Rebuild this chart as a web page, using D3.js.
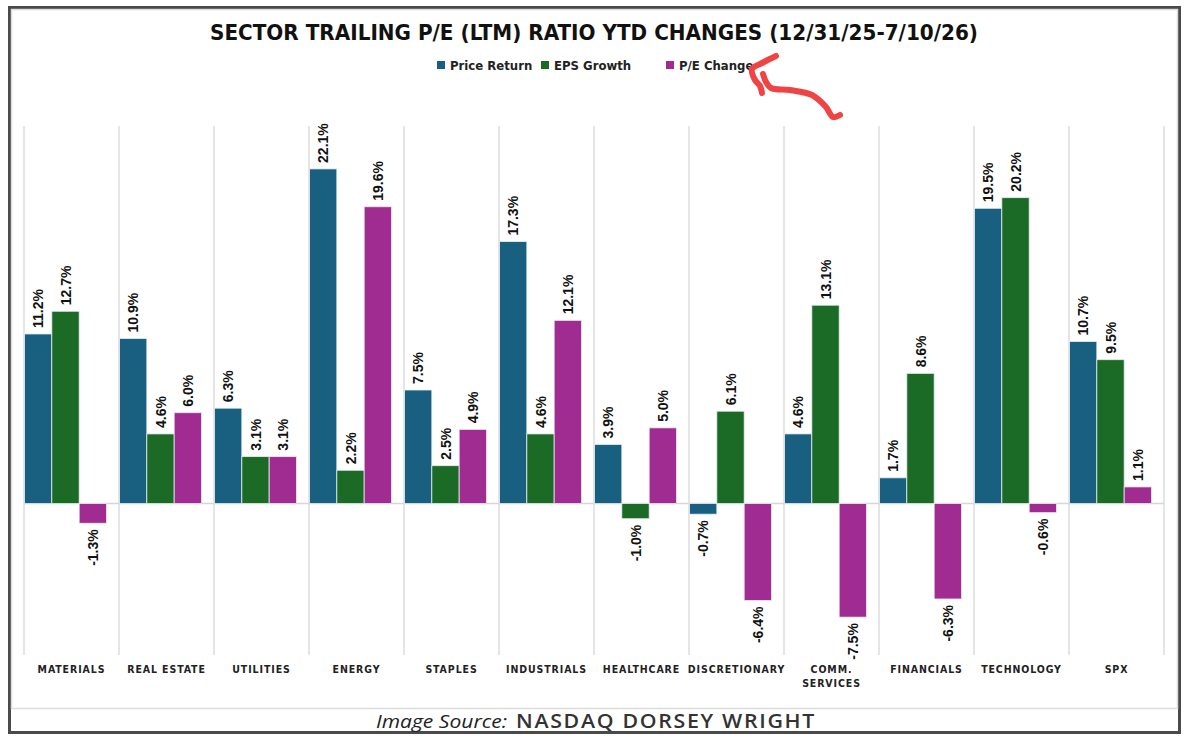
<!DOCTYPE html>
<html>
<head>
<meta charset="utf-8">
<script src="https://cdn.jsdelivr.net/npm/d3@7"></script>
<style>
    body { margin: 0; background: #fff; }
    svg { display: block; }
</style>
</head>
<body>
<div id="chart"></div>
<script>
const sectors = ["MATERIALS", "REAL ESTATE", "UTILITIES", "ENERGY", "STAPLES", "INDUSTRIALS",
    "HEALTHCARE", "DISCRETIONARY", "COMM.|SERVICES", "FINANCIALS", "TECHNOLOGY", "SPX"]
const series = ["Price Return", "EPS Growth", "P/E Change"]
const price_return = [11.2, 10.9, 6.3, 22.1, 7.5, 17.3, 3.9, -0.7, 4.6, 1.7, 19.5, 10.7]
const eps_growth = [12.7, 4.6, 3.1, 2.2, 2.5, 4.6, -1.0, 6.1, 13.1, 8.6, 20.2, 9.5]
const pe_change = [-1.3, 6.0, 3.1, 19.6, 4.9, 12.1, 5.0, -6.4, -7.5, -6.3, -0.6, 1.1]
const colors = ["#185f80", "#1b6a26", "#a12c91"]

const W = 1188, H = 738
const values = [price_return, eps_growth, pe_change]
const data = sectors.map((s, i) => ({ sector: s, vals: values.map((v, k) => ({ key: series[k], v: v[i] })) }))

const svg = d3.select("#chart").append("svg")
    .attr("width", W)
    .attr("height", H)

// frames
svg.append("rect")
    .attr("x", 9.5).attr("y", 7.5)
    .attr("width", 1170).attr("height", 725)
    .attr("fill", "#fff")
    .attr("stroke", "#4a4a4a")
    .attr("stroke-width", 3)
svg.append("rect")
    .attr("x", 11.5).attr("y", 9.5)
    .attr("width", 1166).attr("height", 699)
    .attr("fill", "none")
    .attr("stroke", "#dcdcdc")
    .attr("stroke-width", 1.5)

// scales
const x = d3.scaleBand()
    .domain(sectors)
    .range([24, 1164])
    .padding(0)

const xs = d3.scaleBand()
    .domain(series)
    .range([0.5, 82.5])
    .padding(0)

const y = d3.scaleLinear()
    .domain([-10, 25])
    .range([655, 125])

// vertical grid lines between categories
const bounds = sectors.map(s => x(s)).concat([x.range()[1]])
svg.append("g")
    .selectAll("line")
    .data(bounds)
    .enter().append("line")
    .attr("x1", d => d).attr("x2", d => d)
    .attr("y1", y(25) + 1).attr("y2", y(-10))
    .attr("stroke", "#dcdcdc")
    .attr("stroke-width", 1.5)

// zero line
svg.append("line")
    .attr("x1", x.range()[0]).attr("x2", x.range()[1])
    .attr("y1", y(0)).attr("y2", y(0))
    .attr("stroke", "#d6d6d6")
    .attr("stroke-width", 1.5)

// bars
const groups = svg.append("g")
    .selectAll("g")
    .data(data)
    .enter().append("g")
    .attr("transform", d => `translate(${x(d.sector)},0)`)

groups.selectAll("rect")
    .data(d => d.vals)
    .enter().append("rect")
    .attr("x", d => xs(d.key))
    .attr("y", d => y(Math.max(0, d.v)))
    .attr("width", xs.bandwidth())
    .attr("height", d => Math.abs(y(d.v) - y(0)))
    .attr("fill", (d, i) => colors[i])
    .attr("stroke", "#e8eef0")
    .attr("stroke-width", 0.8)

// value labels (rotated)
groups.selectAll("text")
    .data(d => d.vals)
    .enter().append("text")
    .attr("transform", d => {
        const cx = xs(d.key) + xs.bandwidth() / 2
        const cy = d.v >= 0 ? y(d.v) - 6 : y(d.v) + 6
        return `translate(${cx},${cy}) rotate(-90)`
    })
    .attr("dy", "0.36em")
    .attr("text-anchor", d => d.v >= 0 ? "start" : "end")
    .style("font-family", "'Liberation Sans', Arial, sans-serif")
    .style("font-weight", "bold")
    .style("font-size", "14px")
    .style("fill", "#111")
    .text(d => d.v.toFixed(1) + "%")

// category labels
const catFont = "'Liberation Sans Narrow', 'DejaVu Sans Condensed', 'Roboto Condensed', Arial Narrow, sans-serif"
svg.append("g")
    .selectAll("text")
    .data(sectors)
    .enter().append("text")
    .attr("x", d => x(d) + x.bandwidth() / 2)
    .attr("y", 673)
    .attr("text-anchor", "middle")
    .style("font-family", catFont)
    .style("font-weight", "bold")
    .style("font-size", "10.5px")
    .style("letter-spacing", "0.9px")
    .style("fill", "#222")
    .each(function (d) {
        const lines = d.split("|")
        d3.select(this).selectAll("tspan")
            .data(lines)
            .enter().append("tspan")
            .attr("x", x(d) + x.bandwidth() / 2)
            .attr("dy", (l, i) => i === 0 ? 0 : 14)
            .text(l => l)
    })

// title
svg.append("text")
    .attr("x", 594)
    .attr("y", 40)
    .attr("text-anchor", "middle")
    .attr("textLength", 768)
    .attr("lengthAdjust", "spacingAndGlyphs")
    .style("font-family", catFont)
    .style("font-weight", "bold")
    .style("font-size", "22px")
    .style("fill", "#111")
    .text("SECTOR TRAILING P/E (LTM) RATIO YTD CHANGES (12/31/25-7/10/26)")

// legend
const legendX = [437, 541, 666]
const legend = svg.append("g")
series.forEach((s, i) => {
    const item = legend.append("g")
        .attr("transform", `translate(${legendX[i]}, 61)`)
    item.append("rect")
        .attr("width", 8)
        .attr("height", 8)
        .attr("fill", colors[i])
    item.append("text")
        .attr("x", 13)
        .attr("y", 9)
        .style("font-family", catFont)
        .style("font-weight", "bold")
        .style("font-size", "13px")
        .style("fill", "#222")
        .text(s)
})

// hand-drawn red arrow pointing at the P/E Change legend entry
const line = d3.line().curve(d3.curveCatmullRom)
const arrow = svg.append("g")
    .attr("fill", "none")
    .attr("stroke", "#f04444")
    .attr("stroke-width", 6)
    .attr("stroke-linecap", "round")
    .attr("stroke-linejoin", "round")
arrow.append("path")
    .attr("d", line([[776, 56], [762, 63], [752, 69], [755, 80], [760, 86], [762, 93]]))
arrow.append("path")
    .attr("d", line([[763, 74], [766, 82], [771, 88], [790, 90], [812, 95], [826, 107], [833, 117], [840, 115]]))

// source
svg.append("text")
    .attr("x", 376)
    .attr("y", 728)
    .attr("textLength", 131)
    .attr("lengthAdjust", "spacingAndGlyphs")
    .style("font-family", "'Open Sans', 'DejaVu Sans', sans-serif")
    .style("font-style", "italic")
    .style("font-weight", "500")
    .style("font-size", "18px")
    .style("fill", "#222")
    .text("Image Source:")
svg.append("text")
    .attr("x", 516)
    .attr("y", 728)
    .attr("textLength", 300)
    .attr("lengthAdjust", "spacingAndGlyphs")
    .style("font-family", "'Open Sans', 'DejaVu Sans', sans-serif")
    .style("font-weight", "600")
    .style("font-size", "19px")
    .style("letter-spacing", "1.5px")
    .style("fill", "#333")
    .text("NASDAQ DORSEY WRIGHT")
</script>
</body>
</html>
